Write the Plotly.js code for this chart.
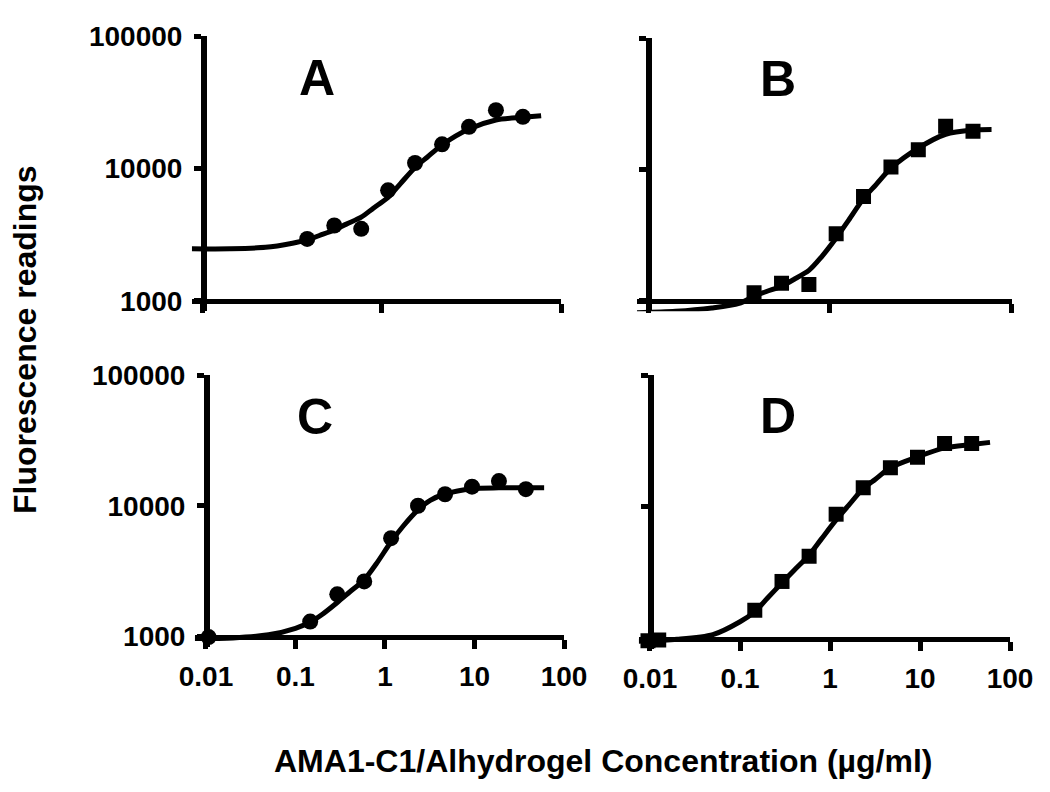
<!DOCTYPE html>
<html>
<head>
<meta charset="utf-8">
<script src="https://cdn.plot.ly/plotly-3.0.1.min.js"></script>
<style>html,body{margin:0;padding:0;background:#fff;}#chart{width:1050px;height:792px;}</style>
</head>
<body>
<div id="chart"></div>
<script>
// ---- data ----
const conc = [0.146, 0.293, 0.586, 1.17, 2.34, 4.69, 9.38, 18.75, 37.5];
const valsA = [2930, 3700, 3490, 6820, 10970, 15200, 20600, 27500, 24500];
const valsB = [1150, 1360, 1330, 3230, 6220, 10400, 14100, 21300, 19500];
const valsC = [1300, 2100, 2640, 5650, 10000, 12250, 14000, 15450, 13400];
const valsD = [1640, 2710, 4210, 8780, 13960, 19800, 23800, 30200, 30200];
const lowConcC = [0.0107];
const lowValsC = [990];
const lowConcD = [0.0095, 0.0125];
const lowValsD = [960, 975];

// fitted curves at these concentrations
const curveX = [0.0075, 0.02, 0.05, 0.1, 0.146, 0.2, 0.293, 0.4, 0.586, 0.8, 1.17, 1.6, 2.34, 3.2, 4.69, 9.38, 18.75, 37.5, 60];
const curveA = [2465, 2470, 2530, 2720, 2880, 3110, 3420, 3790, 4275, 5000, 6030, 7640, 10160, 12140, 15030, 19800, 23200, 24300, 25000];
const curveB = [810, 830, 880, 953, 1080, 1175, 1290, 1450, 1700, 2140, 3000, 4090, 6000, 7620, 10200, 14500, 18500, 19900, 20100];
const curveC = [965, 975, 1030, 1156, 1290, 1480, 1820, 2180, 2720, 3600, 5300, 7000, 9300, 11000, 12300, 13500, 13700, 13740, 13750];
const curveD = [955, 985, 1070, 1340, 1600, 2010, 2650, 3300, 4300, 5680, 7950, 10200, 13750, 16200, 19800, 23940, 28000, 29700, 30800];

const xTickVals = [0.01, 0.1, 1, 10, 100];
const xTickText = ["0.01", "0.1", "1", "10", "100"];
const xTickValsTop = [0.01, 1, 100];
const yTickVals = [1000, 10000, 100000];
const yTickText = ["1000", "10000", "100000"];
const panelLetters = ["A", "B", "C", "D"];
const xTitle = "AMA1-C1/Alhydrogel Concentration (µg/ml)";
const yTitle = "Fluorescence readings";

// ---- styling / layout ----
const W = 1050, H = 792;
const FONT = "Liberation Sans, Arial, Helvetica, sans-serif";
const px = v => v / W;
const py = v => 1 - v / H;

function curveTrace(y, ax) {
  return {x: curveX, y: y, xaxis: 'x' + ax, yaxis: 'y' + ax, mode: 'lines',
    line: {color: '#000', width: 5, shape: 'spline', smoothing: 0.8}, hoverinfo: 'skip', showlegend: false};
}
function pointTrace(x, y, ax, sym) {
  return {x: x, y: y, xaxis: 'x' + ax, yaxis: 'y' + ax, mode: 'markers',
    marker: {color: '#000', size: sym === 'circle' ? 16 : 15, symbol: sym, line: {width: 0}}, showlegend: false};
}

const traces = [
  curveTrace(curveA, ''), pointTrace(conc, valsA, '', 'circle'),
  curveTrace(curveB, '2'), pointTrace(conc, valsB, '2', 'square'),
  curveTrace(curveC, '3'), pointTrace(conc, valsC, '3', 'circle'), pointTrace(lowConcC, lowValsC, '3', 'circle'),
  curveTrace(curveD, '4'), pointTrace(conc, valsD, '4', 'square'), pointTrace(lowConcD, lowValsD, '4', 'square')
];

const tickFont = {family: FONT, size: 28, color: '#000', weight: 700};
const xRange = [Math.log10(0.0075), 2];
const yRange = [2.92, 5];

function xAxis(dom, posPx, full) {
  return {type: 'log', domain: [px(dom[0]), px(dom[1])], range: xRange, anchor: 'free', position: py(posPx),
    showline: true, linecolor: '#000', linewidth: 5.5, showgrid: false, zeroline: false,
    ticks: 'outside', ticklen: 9, tickwidth: 5, tickcolor: '#000',
    tickmode: 'array', tickvals: full ? xTickVals : xTickValsTop, ticktext: full ? xTickText : [],
    showticklabels: full, tickfont: tickFont, ticklabelstandoff: 3, fixedrange: true};
}
function yAxis(dom, posPx, labels) {
  return {type: 'log', domain: [py(dom[1]), py(dom[0])], range: yRange, anchor: 'free', position: px(posPx),
    showline: true, linecolor: '#000', linewidth: 5.5, showgrid: false, zeroline: false,
    ticks: 'outside', ticklen: 7, tickwidth: 5, tickcolor: '#000',
    tickmode: 'array', tickvals: yTickVals, ticktext: labels ? yTickText : [],
    showticklabels: labels, tickfont: tickFont, ticklabelstandoff: 6, fixedrange: true};
}

const letterPos = [[316.5, 78], [777.5, 79], [315, 417], [777.5, 416]];
const annotations = panelLetters.map((t, i) => ({
  text: t, xref: 'paper', yref: 'paper', x: px(letterPos[i][0]), y: py(letterPos[i][1]),
  xanchor: 'center', yanchor: 'middle', showarrow: false,
  font: {family: FONT, size: 50, color: '#000', weight: 700}
}));
annotations.push({text: xTitle, xref: 'paper', yref: 'paper', x: px(603), y: py(761),
  xanchor: 'center', yanchor: 'middle', showarrow: false,
  font: {family: FONT, size: 32, color: '#000', weight: 700}});
annotations.push({text: yTitle, xref: 'paper', yref: 'paper', x: px(25), y: py(340), textangle: -90,
  xanchor: 'center', yanchor: 'middle', showarrow: false,
  font: {family: FONT, size: 32, color: '#000', weight: 700}});

const layout = {
  width: W, height: H, margin: {l: 0, r: 0, t: 0, b: 0, pad: 0},
  paper_bgcolor: '#fff', plot_bgcolor: 'rgba(0,0,0,0)', showlegend: false,
  xaxis:  xAxis([191.8, 561], 300.7, false),
  yaxis:  yAxis([36, 311.3], 203, true),
  xaxis2: xAxis([636.9, 1011.7], 300.7, false),
  yaxis2: yAxis([38, 311.2], 648.3, false),
  xaxis3: xAxis([194.8, 564], 636.5, true),
  yaxis3: yAxis([375, 646.96], 206, true),
  xaxis4: xAxis([638.75, 1010], 638.5, true),
  yaxis4: yAxis([375, 649.04], 650, false),
  annotations: annotations
};

Plotly.newPlot('chart', traces, layout, {displayModeBar: false, staticPlot: true});
</script>
</body>
</html>
